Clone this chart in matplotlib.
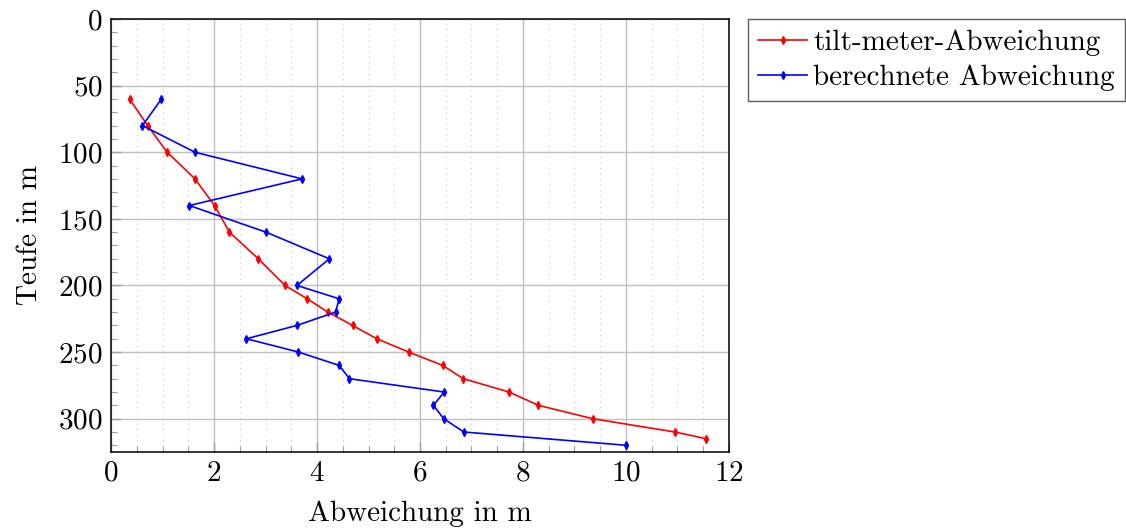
import numpy as np
import matplotlib
matplotlib.use('Agg')
from matplotlib import pyplot as plt
from matplotlib.ticker import MultipleLocator

plt.rcParams['font.family'] = ['cmr10', 'DejaVu Serif']
plt.rcParams['mathtext.fontset'] = 'cm'
plt.rcParams['axes.formatter.use_mathtext'] = True

# Daten
tilt_teufe = [60, 80, 100, 120, 140, 160, 180, 200, 210, 220, 230, 240, 250, 260, 270, 280, 290, 300, 310, 315]
tilt_abw = [0.36, 0.71, 1.09, 1.63, 2.01, 2.30, 2.86, 3.38, 3.81, 4.21, 4.69, 5.16, 5.78, 6.44, 6.84, 7.73, 8.30, 9.35, 10.95, 11.55]

ber_teufe = [60, 80, 100, 120, 140, 160, 180, 200, 210, 220, 230, 240, 250, 260, 270, 280, 290, 300, 310, 320]
ber_abw = [0.98, 0.61, 1.63, 3.71, 1.52, 3.01, 4.24, 3.61, 4.43, 4.36, 3.61, 2.63, 3.64, 4.43, 4.63, 6.47, 6.26, 6.46, 6.85, 10.01]

fig = plt.figure(figsize=(11.26, 5.31), dpi=100)
ax = fig.add_axes([0.0986, 0.1488, 0.5488, 0.8154])

ax.plot(tilt_abw, tilt_teufe, color='red', marker='d', markersize=4, lw=1.2, label='tilt-meter-Abweichung')
ax.plot(ber_abw, ber_teufe, color='blue', marker='d', markersize=4, lw=1.2, label='berechnete Abweichung')

ax.set_xlim(0, 12)
ax.set_ylim(325, 0)
ax.xaxis.set_major_locator(MultipleLocator(2))
ax.xaxis.set_minor_locator(MultipleLocator(0.5))
ax.yaxis.set_major_locator(MultipleLocator(50))
ax.yaxis.set_minor_locator(MultipleLocator(10))

# Gitter
ax.grid(True, which='major', color='#bfbfbf', lw=1.0, ls='-')
ax.grid(True, which='minor', axis='x', color='#c8c8c8', lw=0.8, ls=(0, (1, 4)))
ax.set_axisbelow(True)

ax.tick_params(which='both', direction='in', color='#a0a0a0', labelsize=21)
ax.tick_params(which='major', length=7, width=1, pad=6)
ax.tick_params(which='minor', length=4, width=0.8)
for s in ax.spines.values():
    s.set_linewidth(1.1)

ax.set_xlabel('Abweichung in m', fontsize=21, labelpad=10)
ax.set_ylabel('Teufe in m', fontsize=21, labelpad=11)

leg = ax.legend(loc='upper left', bbox_to_anchor=(1.03, 1.0), fontsize=21, frameon=True,
                fancybox=False, edgecolor='#333333', handlelength=1.7, handletextpad=0.2,
                borderpad=0.35, labelspacing=0.3, borderaxespad=0)
leg.get_frame().set_linewidth(1.0)

plt.savefig('out.png', dpi=100)
